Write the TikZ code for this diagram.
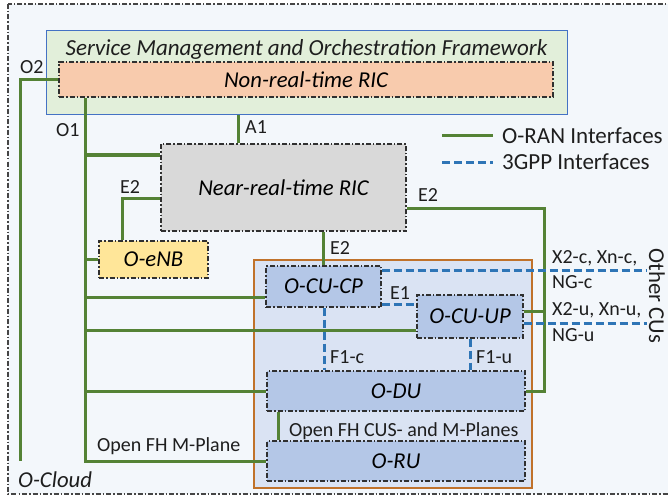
\documentclass[tikz,border=0pt]{standalone}
\usepackage{fontspec}
\setmainfont{Carlito}
\definecolor{bgc}{HTML}{F3F7FB}
\definecolor{smofill}{HTML}{E2EFDA}
\definecolor{smodraw}{HTML}{4472C4}
\definecolor{nrtfill}{HTML}{F8CBAD}
\definecolor{nearfill}{HTML}{D9D9D9}
\definecolor{enbfill}{HTML}{FFE699}
\definecolor{ranfill}{HTML}{DAE3F3}
\definecolor{randraw}{HTML}{C0722A}
\definecolor{cufill}{HTML}{B4C7E7}
\definecolor{ogreen}{HTML}{548235}
\definecolor{gblue}{HTML}{2E75B6}
\definecolor{boxline}{HTML}{303030}
\definecolor{labcol}{HTML}{1E1E1E}
\begin{document}
\begin{tikzpicture}[x=1pt,y=-1pt,
  box/.style={draw=boxline, line width=1.2pt, dash pattern=on 5pt off 2pt on 1.5pt off 2pt,
    inner sep=0pt, font=\fontsize{22.7}{27}\selectfont\itshape},
  oran/.style={draw=ogreen, line width=3pt},
  gpp/.style={draw=gblue, line width=3pt, dash pattern=on 8pt off 4pt},
  lab/.style={font=\fontsize{20}{24}\selectfont, inner sep=0pt, anchor=base west, text=labcol},
  leg/.style={font=\fontsize{23}{27}\selectfont, inner sep=0pt, anchor=base west, text=labcol}]
\useasboundingbox (0,0) rectangle (668,497);
% O-Cloud
\path[fill=bgc, draw=boxline!90, line width=1.2pt, dash pattern=on 5pt off 2pt on 1.5pt off 2pt]
  (8,4) rectangle (680,494);
\node[lab, font=\fontsize{22.7}{27}\selectfont\itshape] (ocloud) at (18,487) {O-Cloud};
% SMO
\node[draw=smodraw, fill=smofill, line width=1pt, minimum width=521pt, minimum height=84pt, inner sep=0pt] (smo) at (306.5,73) {};
\node[font=\fontsize{23}{27}\selectfont\itshape, inner sep=0pt, anchor=base, text=labcol] (smot) at (306.5,56) {Service Management and Orchestration Framework};
\node[box, fill=nrtfill, minimum width=494pt, minimum height=35pt] (nonrt) at (306,79.5) {Non-real-time RIC};
% Near-RT
\node[box, fill=nearfill, minimum width=245pt, minimum height=87pt] (nearrt) at (283.5,187.5) {Near-real-time RIC};
\node[box, fill=enbfill, minimum width=109pt, minimum height=37pt] (oenb) at (153.5,259.5) {O-eNB};
% RAN container
\node[draw=randraw, fill=ranfill, line width=1.2pt, minimum width=278pt, minimum height=228pt, inner sep=0pt] (ran) at (393,374) {};
\node[box, fill=cufill, minimum width=115pt, minimum height=41pt] (cucp) at (323.5,286.5) {O-CU-CP};
\node[box, fill=cufill, minimum width=106pt, minimum height=43pt] (cuup) at (470,316.5) {O-CU-UP};
\node[box, fill=cufill, minimum width=258pt, minimum height=40pt] (odu) at (396,391) {O-DU};
\node[box, fill=cufill, minimum width=258pt, minimum height=40pt] (oru) at (396,461) {O-RU};
% helper coordinates
\coordinate (o1) at (85,0);
\coordinate (o2) at (20,461);
\coordinate (yNrt) at (0,155);
\coordinate (yCp) at (0,297);
\coordinate (yUp) at (0,330);
\coordinate (a1x) at (238,0);
\coordinate (e2a) at (122,198);
\coordinate (e2b) at (323,0);
\coordinate (e2c) at (544,208);
\coordinate (upg) at (544,311);
\coordinate (e1y) at (0,304);
\coordinate (x2c) at (647,270);
\coordinate (x2u) at (647,323);
\coordinate (f1c) at (324,0);
\coordinate (fh) at (278,0);
\coordinate (lg1a) at (442,136);
\coordinate (lg1b) at (493,136);
\coordinate (lg2a) at (442,162);
\coordinate (lg2b) at (493,162);
% O-RAN interfaces
\draw[oran] (nonrt.west) -| (o2);
\draw[oran] (o1 |- nonrt.south) -- (o1 |- oru.west) -- (oru.west);
\draw[oran] (o1 |- yNrt) -- (nearrt.west |- yNrt);
\draw[oran] (o1 |- oenb.west) -- (oenb.west);
\draw[oran] (o1 |- yCp) -- (cucp.west |- yCp);
\draw[oran] (o1 |- yUp) -- (cuup.west |- yUp);
\draw[oran] (o1 |- odu.west) -- (odu.west);
\draw[oran] (a1x |- smo.south) -- (a1x |- nearrt.north);
\draw[oran] (nearrt.west |- e2a) -- (e2a) -- (e2a |- oenb.north);
\draw[oran] (e2b |- nearrt.south) -- (e2b |- cucp.north);
\draw[oran] (nearrt.east |- e2c) -- (e2c) |- (odu.east);
\draw[oran] (cuup.east |- upg) -- (upg);
\draw[oran] (fh |- odu.south) -- (fh |- oru.north);
% 3GPP interfaces
\draw[gpp] (cucp.east |- e1y) -- (cuup.west |- e1y);
\draw[gpp] (cucp.east |- x2c) -- (x2c);
\draw[gpp] (cuup.east |- x2u) -- (x2u);
\draw[gpp] (f1c |- cucp.south) -- (f1c |- odu.north);
\draw[gpp] (cuup.south) -- (cuup.south |- odu.north);
% labels
\node[lab] (lo2) at (20,74) {O2};
\node[lab] (lo1) at (56,137) {O1};
\node[lab] (la1) at (245,134) {A1};
\node[lab] (le2a) at (120,193) {E2};
\node[lab] (le2c) at (418,201) {E2};
\node[lab] (le2b) at (330,254) {E2};
\node[lab] (le1) at (390,299) {E1};
\node[lab] (lx2c) at (552,263) {X2-c, Xn-c,};
\node[lab] (lngc) at (552,288) {NG-c};
\node[lab] (lx2u) at (552,315) {X2-u, Xn-u,};
\node[lab] (lngu) at (552,341) {NG-u};
\node[lab] (lf1c) at (330,363) {F1-c};
\node[lab] (lf1u) at (476,363) {F1-u};
\node[lab] (lfh) at (289,436) {Open FH CUS- and M-Planes};
\node[lab] (lfhm) at (97,451) {Open FH M-Plane};
\node[font=\fontsize{22.7}{27}\selectfont, inner sep=0pt, rotate=-90, text=labcol] (other) at (657,296) {Other CUs};
% legend
\draw[oran] (lg1a) -- (lg1b);
\draw[gpp] (lg2a) -- (lg2b);
\node[leg] (lt1) at (502,143) {O-RAN Interfaces};
\node[leg] (lt2) at (502,169) {3GPP Interfaces};
\end{tikzpicture}
\end{document}
